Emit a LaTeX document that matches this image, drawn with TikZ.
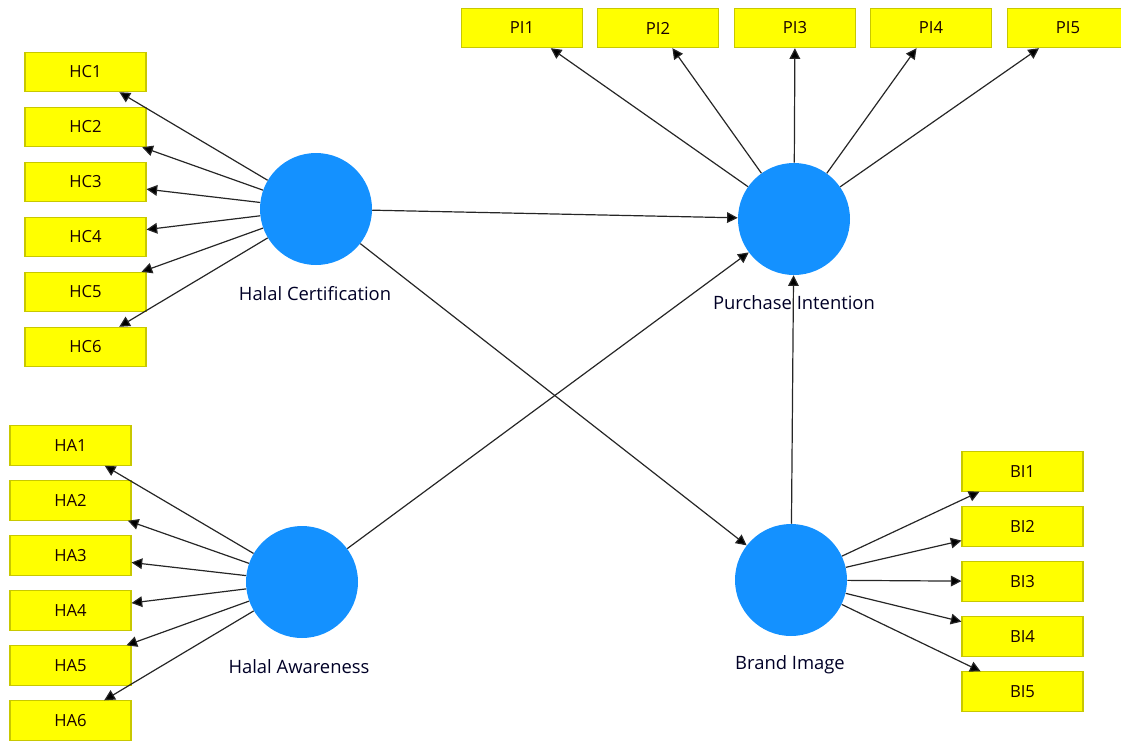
\documentclass[tikz,border=0pt]{standalone}
\usepackage{fontspec}
\setmainfont{Open Sans}
\usetikzlibrary{arrows.meta}
\definecolor{lvblue}{RGB}{20,145,255}
\definecolor{mvyellow}{RGB}{255,255,0}
\definecolor{mvedge}{RGB}{200,200,0}
\begin{document}
\begin{tikzpicture}[x=0.75pt,y=-0.75pt,
  lv/.style={circle,fill=lvblue,minimum size=84pt,inner sep=0pt},
  mv/.style={draw=mvedge,line width=0.8pt,fill=mvyellow,minimum width=90.75pt,minimum height=29.5pt,inner sep=0pt,font=\fontsize{12.5}{14}\selectfont,text=black!90!red},
  lbl/.style={font=\fontsize{13.8}{16}\selectfont,text=black!85!blue,inner sep=0pt},
  arr/.style={draw=black!85,line width=0.9pt,-{Triangle[length=8pt,width=8pt,fill=black]}}]
\useasboundingbox (0,0) rectangle (1121,740);
% latent variables
\node[lv] (HC) at (316,209) {};
\node[lv] (PI) at (794,219) {};
\node[lv] (HA) at (302,582) {};
\node[lv] (BI) at (791,580) {};
\node[lbl] (HCl) at (315,294) {Halal Certification};
\node[lbl] (PIl) at (794,303) {Purchase Intention};
\node[lbl] (HAl) at (299,667) {Halal Awareness};
\node[lbl] (BIl) at (790,665) {Brand Image};
% indicators
\node[mv] (HC1) at (85.5,72) {HC1};
\node[mv] (HC2) at (85.5,127) {HC2};
\node[mv] (HC3) at (85.5,182) {HC3};
\node[mv] (HC4) at (85.5,237) {HC4};
\node[mv] (HC5) at (85.5,292) {HC5};
\node[mv] (HC6) at (85.5,347) {HC6};
\node[mv] (HA1) at (70.5,445.5) {HA1};
\node[mv] (HA2) at (70.5,500.5) {HA2};
\node[mv] (HA3) at (70.5,555.5) {HA3};
\node[mv] (HA4) at (70.5,610.5) {HA4};
\node[mv] (HA5) at (70.5,665.5) {HA5};
\node[mv] (HA6) at (70.5,720.5) {HA6};
\node[mv] (PI1) at (522,28) {PI1};
\node[mv] (PI2) at (658,28) {PI2};
\node[mv] (PI3) at (795,28) {PI3};
\node[mv] (PI4) at (931,28) {PI4};
\node[mv] (PI5) at (1068,28) {PI5};
\node[mv] (BI1) at (1022.5,471.5) {BI1};
\node[mv] (BI2) at (1022.5,526.5) {BI2};
\node[mv] (BI3) at (1022.5,581.5) {BI3};
\node[mv] (BI4) at (1022.5,636.5) {BI4};
\node[mv] (BI5) at (1022.5,691.5) {BI5};
% outer model
\foreach \i in {1,...,6} {\draw[arr] (HC) -- (HC\i); \draw[arr] (HA) -- (HA\i);}
\foreach \i in {1,...,5} {\draw[arr] (PI) -- (PI\i); \draw[arr] (BI) -- (BI\i);}
% inner model
\draw[arr] (HC) -- (PI);
\draw[arr] (HC) -- (BI);
\draw[arr] (HA) -- (PI);
\draw[arr] (BI) -- (PI);
\end{tikzpicture}
\end{document}
